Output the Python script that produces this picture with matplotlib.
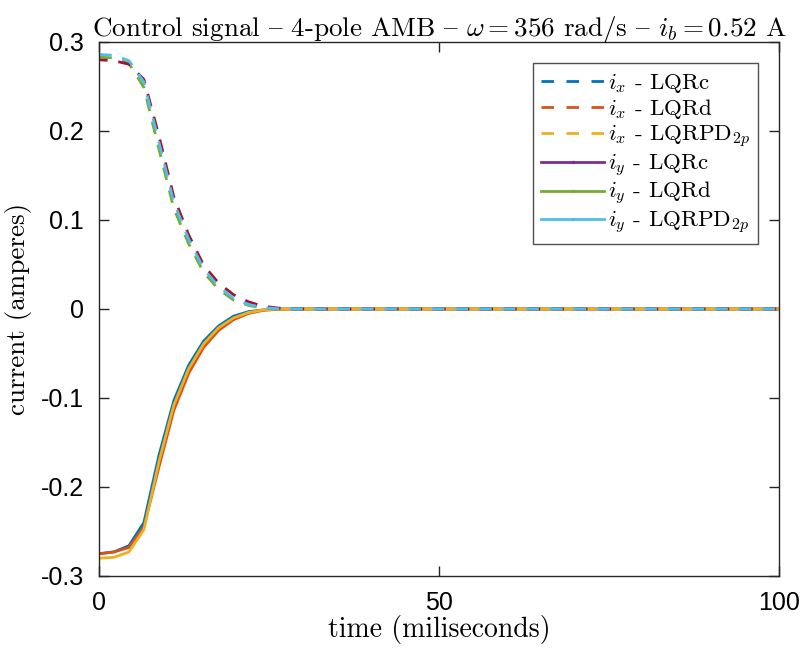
import matplotlib
matplotlib.use('Agg')
import matplotlib.pyplot as plt
from matplotlib.lines import Line2D

# tempo (ms) e correnti
t = [0, 2.2, 4.4, 6.6, 8.8, 11.0, 13.2, 15.4, 17.6, 19.8, 22.0, 24.2, 26.4, 28.6, 100]

ix_lightblue = [0.286, 0.285, 0.279, 0.255, 0.188, 0.120, 0.078, 0.045, 0.025, 0.012, 0.005, 0.0015, 0.0003, 0, 0]
ix_green = [0.283, 0.282, 0.276, 0.249, 0.180, 0.113, 0.073, 0.041, 0.022, 0.010, 0.004, 0.001, 0.0, 0, 0]
ix_darkred = [0.280, 0.279, 0.275, 0.258, 0.195, 0.126, 0.083, 0.049, 0.029, 0.016, 0.008, 0.003, 0.001, 0, 0]

iy_blue = [-0.275, -0.273, -0.266, -0.240, -0.165, -0.103, -0.063, -0.036, -0.019, -0.008, -0.003, -0.001, 0, 0, 0]
iy_orange = [-0.275, -0.273, -0.268, -0.245, -0.178, -0.114, -0.072, -0.043, -0.024, -0.012, -0.005, -0.0015, -0.0003, 0, 0]
iy_yellow = [-0.280, -0.279, -0.273, -0.248, -0.172, -0.108, -0.067, -0.039, -0.021, -0.010, -0.004, -0.001, 0, 0, 0]

legend_labels = [r'$i_x$ - LQRc', r'$i_x$ - LQRd', r'$i_x$ - LQRPD$_{2p}$',
                 r'$i_y$ - LQRc', r'$i_y$ - LQRd', r'$i_y$ - LQRPD$_{2p}$']

# colori MATLAB
blue, orange, yellow = '#0072BD', '#D95319', '#EDB120'
purple, green, lightblue, darkred = '#7E2F8E', '#77AC30', '#4DBEEE', '#A2142F'

plt.rcParams['mathtext.fontset'] = 'cm'
serif = ['cmr10', 'DejaVu Serif']
tickfont = 'Liberation Sans'
# in cmr10 (codifica TeX) il carattere '{' e' il trattino lungo
dash = '{'

fig = plt.figure(figsize=(8.01, 6.49), dpi=100)
ax = fig.add_axes([0.1236, 0.1125, 0.8489, 0.8228])

lw = 2.0
dpat = (4.6, 3.9)
ax.plot(t, iy_blue, color=blue, lw=lw)
ax.plot(t, iy_orange, color=orange, lw=lw)
ax.plot(t, iy_yellow, color=yellow, lw=lw)
ax.plot(t, ix_green, color=green, lw=lw, ls=(0, dpat))
ax.plot(t, ix_darkred, color=darkred, lw=lw, ls=(1.5, dpat))
ax.plot(t, ix_lightblue, color=lightblue, lw=lw, ls=(0, dpat))

ax.set_xlim(0, 100)
ax.set_ylim(-0.3, 0.3)
ax.set_xticks([0, 50, 100])
ax.set_xticklabels(['0', '50', '100'])
ax.set_yticks([-0.3, -0.2, -0.1, 0, 0.1, 0.2, 0.3])
ax.set_yticklabels(['-0.3', '-0.2', '-0.1', '0', '0.1', '0.2', '0.3'])
ax.tick_params(direction='in', length=7, width=1, top=True, right=True,
               labelsize=18, colors='#262626')
ax.tick_params(axis='x', pad=11)
ax.tick_params(axis='y', pad=11)
for lab in ax.get_xticklabels() + ax.get_yticklabels():
    lab.set_fontfamily(tickfont)
    lab.set_color('black')
for s in ax.spines.values():
    s.set_color('#262626')
    s.set_linewidth(1.0)

ax.set_xlabel('time (miliseconds)', fontsize=20, family=serif, labelpad=0)
ax.set_ylabel('current (amperes)', fontsize=19.5, family=serif, labelpad=6)
ax.set_title('Control signal ' + dash + r' 4-pole AMB ' + dash + r' $\omega = 356$ rad/s '
             + dash + r' $i_b = 0.52$ A', fontsize=19.5, family=serif, pad=4)

lpat = (4.5, 4.5)
handles = [
    Line2D([], [], color=blue, lw=lw, ls=(0, lpat)),
    Line2D([], [], color=orange, lw=lw, ls=(0, lpat)),
    Line2D([], [], color=yellow, lw=lw, ls=(0, lpat)),
    Line2D([], [], color=purple, lw=lw, marker='.', markersize=3),
    Line2D([], [], color=green, lw=lw, marker='.', markersize=3),
    Line2D([], [], color=lightblue, lw=lw, marker='.', markersize=3),
]
leg = ax.legend(handles, legend_labels, loc='upper right', bbox_to_anchor=(0.969, 0.961),
                prop={'family': serif, 'size': 16.5}, frameon=True, fancybox=False,
                edgecolor='#262626', handlelength=2.75, handletextpad=0.15,
                labelspacing=0.08, borderpad=0.35, borderaxespad=0, markerscale=1)
leg.get_frame().set_linewidth(1.0)

fig.savefig('out.png', dpi=100)
